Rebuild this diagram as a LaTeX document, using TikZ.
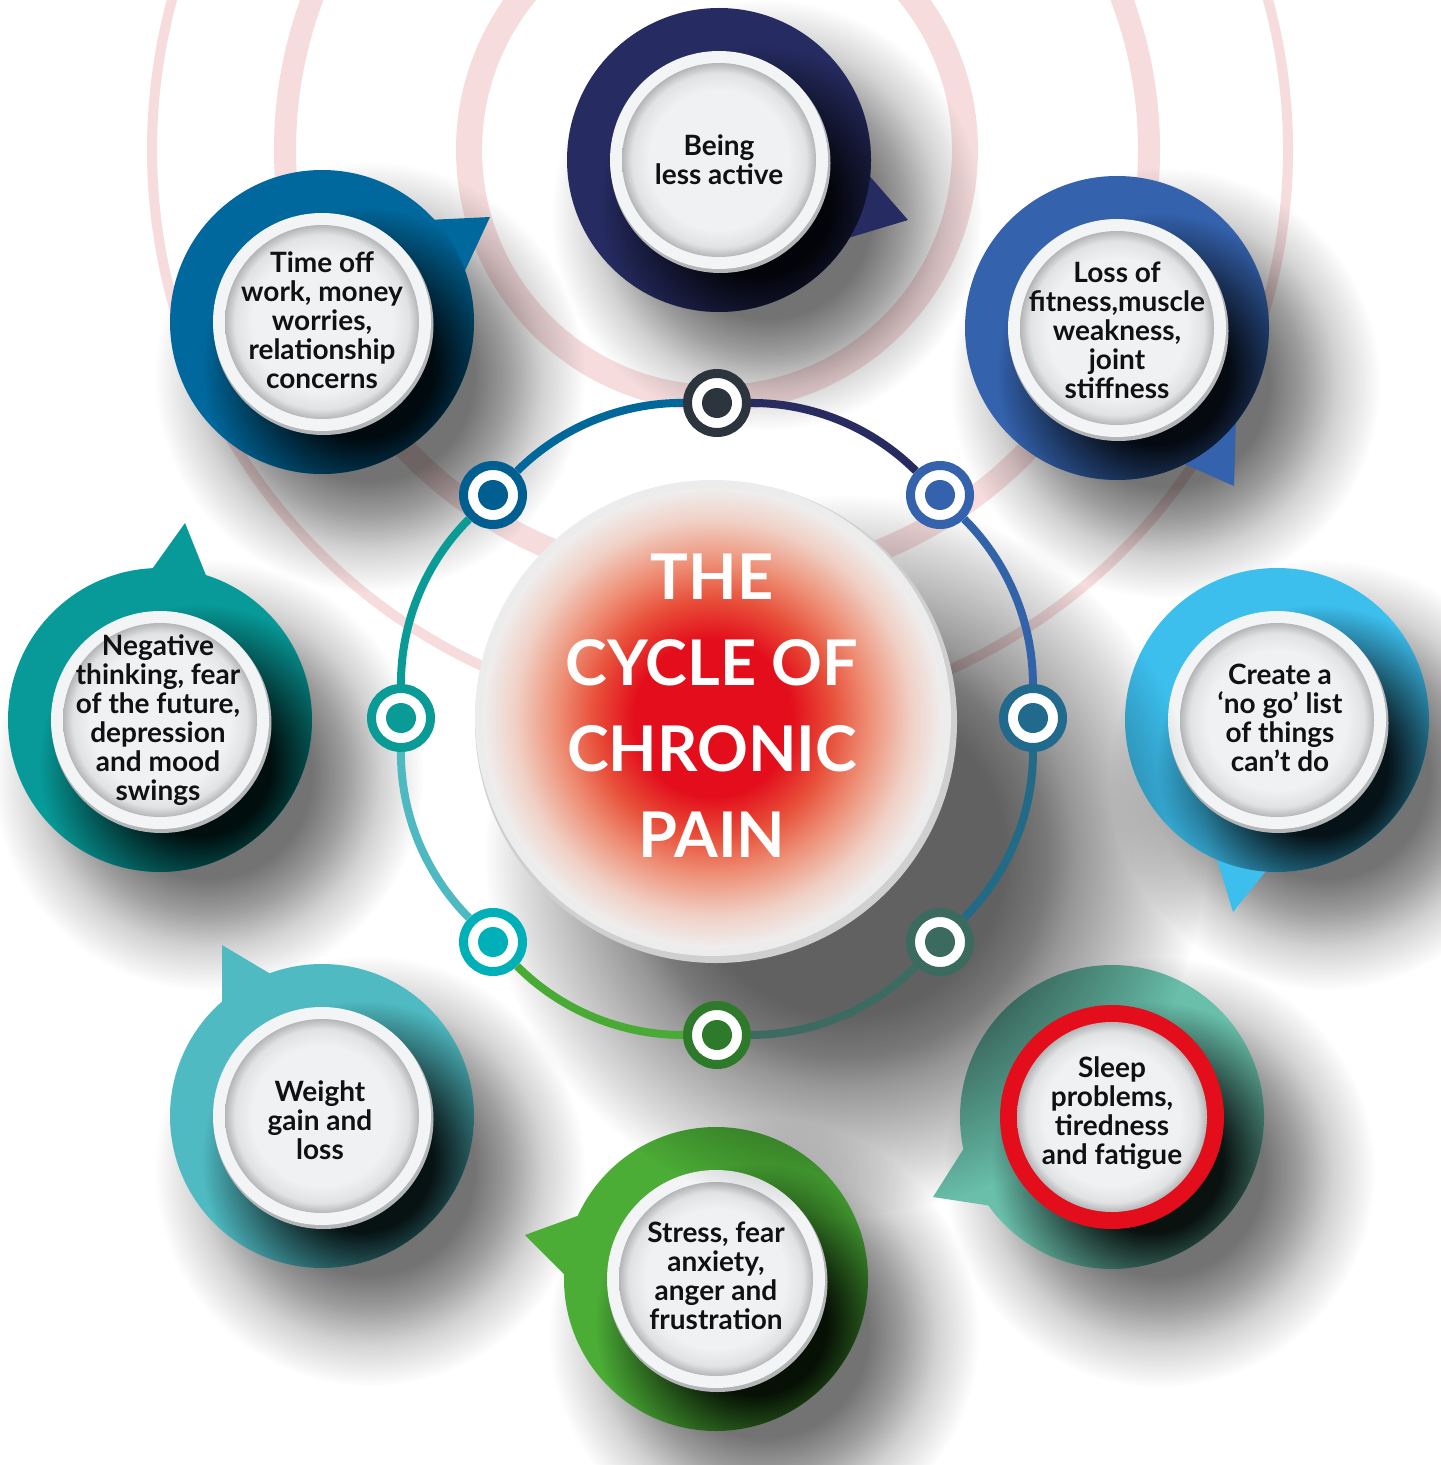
\documentclass[tikz,border=0pt]{standalone}
\usepackage{fontspec}
\setmainfont{Lato}
\usetikzlibrary{fadings}

\definecolor{navyc}{HTML}{262C62}
\definecolor{timec}{HTML}{00689C}
\definecolor{lossc}{HTML}{3462AD}
\definecolor{negc}{HTML}{079A98}
\definecolor{createc}{HTML}{3DBFEE}
\definecolor{sleepc}{HTML}{69BFAA}
\definecolor{stressc}{HTML}{4BAC36}
\definecolor{weightc}{HTML}{4FBAC2}
\definecolor{painred}{HTML}{E30D1B}
\definecolor{painmid}{HTML}{E8503A}
\definecolor{painsal}{HTML}{EE9077}
\definecolor{painpale}{HTML}{F0D0C5}
\definecolor{discw}{HTML}{EFEEEE}
\definecolor{discrim}{HTML}{CFCFCF}
\definecolor{discedge}{HTML}{ECECEC}
\definecolor{pinkc}{HTML}{F6DCDD}
\definecolor{faceA}{HTML}{EFF1F3}
\definecolor{faceB}{HTML}{E1E2E4}
\definecolor{faceC}{HTML}{B5B6B8}
\definecolor{ringwhite}{HTML}{F3F4F5}
\definecolor{ringshade}{HTML}{B4B5B7}
\definecolor{txtc}{HTML}{111111}
% ring colours
\definecolor{rTop}{HTML}{2C343E}
\definecolor{rUR}{HTML}{3562AD}
\definecolor{rR}{HTML}{21698D}
\definecolor{rLR}{HTML}{3B6A5E}
\definecolor{rB}{HTML}{2E7A2B}
\definecolor{rLL}{HTML}{00B0B8}
\definecolor{rL}{HTML}{0A9B96}
\definecolor{rUL}{HTML}{005E90}
\definecolor{aULT}{HTML}{00679B}
\definecolor{aTUR}{HTML}{272B5F}
\definecolor{aURR}{HTML}{3262A8}
\definecolor{aRLR}{HTML}{236A86}
\definecolor{aLRB}{HTML}{3E6B61}
\definecolor{aBLL}{HTML}{4AAA36}
\definecolor{aLLL}{HTML}{4FB9C2}
\definecolor{aLUL}{HTML}{0A9B96}

\pgfdeclareradialshading{softsh}{\pgfpointorigin}{color(0bp)=(white); color(11bp)=(white); color(18bp)=(gray); color(25bp)=(black); color(50bp)=(black)}
\pgfdeclarefading{softfade}{\pgfuseshading{softsh}}
\pgfdeclareradialshading{dropsh}{\pgfpointorigin}{color(0bp)=(white); color(12bp)=(white); color(16bp)=(white!70!black); color(20bp)=(white!32!black); color(25bp)=(black); color(50bp)=(black)}
\pgfdeclarefading{dropfade}{\pgfuseshading{dropsh}}
\pgfdeclareradialshading{longsh}{\pgfpointorigin}{color(0bp)=(white); color(11bp)=(white); color(14bp)=(white!85!black); color(16bp)=(white!66!black); color(19bp)=(white!45!black); color(22bp)=(white!24!black); color(25bp)=(black); color(50bp)=(black)}
\pgfdeclarefading{longfade}{\pgfuseshading{longsh}}
\pgfdeclareradialshading{facesh}{\pgfpointorigin}{color(0bp)=(faceA); color(18bp)=(faceA); color(22.5bp)=(faceB); color(25bp)=(faceC); color(50bp)=(faceC)}
\pgfdeclareradialshading{painsh}{\pgfpointorigin}{color(0bp)=(painred); color(8.5bp)=(painred); color(13bp)=(painmid); color(17bp)=(painsal); color(21.5bp)=(painpale); color(25bp)=(discw); color(50bp)=(discw)}

\newcommand\bubl[5]{% name, x, y, colour, tail path
  \node[bubblec, fill=#4] (#1) at (#2,#3) {};
  \fill[#4] #5;
  \begin{scope}
    \clip (#2,#3) circle (152);
    \fill[black, opacity=0.9, path fading=softfade] (#2+40,#3+45) circle (160);
  \end{scope}
}
\newcommand\wdisc[2]{%
  \fill[ringshade] (#1+1.5,#2+3) circle (110);
  \fill[ringwhite] (#1,#2) circle (109);
  \shade[shading=facesh] (#1,#2) circle (97);
}

\begin{document}
\begin{tikzpicture}[x=0.5pt,y=-0.5pt,
  bubblec/.style={circle, minimum size=152pt, inner sep=0pt, draw=none},
  ringnode/.style={circle, draw=#1, line width=4.5pt, fill=white, minimum size=29.5pt, inner sep=0pt,
     path picture={\fill[#1] (path picture bounding box.center) circle[radius=7.5pt];}},
  arcline/.style={line width=4pt, draw=#1},
  txt/.style={align=center, inner sep=0pt, text=txtc, font=\fontsize{14pt}{14.5pt}\selectfont\bfseries},
  title/.style={align=center, inner sep=0pt, text=white, font=\fontsize{31.5pt}{43pt}\selectfont\bfseries}]
\useasboundingbox (0,0) rectangle (1440,1465);
\fill[white] (0,0) rectangle (1440,1465);

% background pink rings
\begin{scope}
  \clip (0,0) rectangle (1440,1465);
  \draw[pinkc, line width=13pt] (717,150) circle (248);
  \draw[pinkc, line width=11pt] (717,150) circle (432);
  \draw[pinkc, line width=5pt] (720,150) circle (568);
\end{scope}

% bubble drop shadows
\foreach \x/\y in {719/160, 322/322, 1117/328, 160/720, 1277/720, 1112/1117, 716/1279, 322/1116}
  \fill[black, opacity=0.55, path fading=dropfade] (\x+48,\y+55) circle (215);

% speech bubbles
\bubl{b1}{719}{160}{navyc}{(866,172) -- (908,220) -- (848,238) -- cycle}
\wdisc{719}{160}
\node[txt] (t1) at (719,160) {Being\\less active};

\bubl{b2}{322}{322}{timec}{(428,220) -- (490,217) -- (463,275) -- cycle}
\wdisc{322}{322}
\node[txt] (t2) at (322,320) {Time off\\work, money\\worries,\\relationship\\concerns};

\bubl{b3}{1117}{328}{lossc}{(1236,418) -- (1234,486) -- (1180,462) -- cycle}
\wdisc{1117}{328}
\node[txt] (t3) at (1117,330) {Loss of\\fitness,muscle\\weakness,\\joint\\stiffness};

\bubl{b4}{160}{720}{negc}{(150,572) -- (185,523) -- (207,578) -- cycle}
\wdisc{160}{720}
\node[txt] (t4) at (158,720) {Negative\\thinking, fear\\of the future,\\depression\\and mood\\swings};

\bubl{b5}{1277}{720}{createc}{(1216,856) -- (1233,912) -- (1270,866) -- cycle}
\wdisc{1277}{720}
\node[txt] (t5) at (1280,718) {Create a\\‘no go’ list\\of things\\can’t do};

\bubl{b6}{1112}{1117}{sleepc}{(966,1145) -- (933,1197) -- (992,1206) -- cycle}

\bubl{b7}{716}{1279}{stressc}{(580,1215) -- (525,1235) -- (566,1276) -- cycle}
\wdisc{716}{1279}
\node[txt] (t7) at (716,1276) {Stress, fear\\anxiety,\\anger and\\frustration};

\bubl{b8}{322}{1116}{weightc}{(222,1008) -- (222,945) -- (274,976) -- cycle}
\wdisc{322}{1116}
\node[txt] (t8) at (320,1120) {Weight\\gain and\\loss};

% shadow of the central disc
\fill[black, opacity=0.62, path fading=longfade] (845,855) circle (360);

% red-rimmed disc of the sleep bubble
\fill[painred] (1112,1117) circle (112);
\shade[shading=facesh] (1112,1117) circle (95);
\node[txt] (t6) at (1112,1113) {Sleep\\problems,\\tiredness\\and fatigue};

% cycle ring
\node[ringnode=rTop] (nT)  at (717,403) {};
\node[ringnode=rUR]  (nUR) at (940,495) {};
\node[ringnode=rR]   (nR)  at (1033,718) {};
\node[ringnode=rLR]  (nLR) at (940,942) {};
\node[ringnode=rB]   (nB)  at (717,1035) {};
\node[ringnode=rLL]  (nLL) at (493,942) {};
\node[ringnode=rL]   (nL)  at (401,718) {};
\node[ringnode=rUL]  (nUL) at (493,495) {};
\draw[arcline=aULT] (nUL) to[bend left=22.5, looseness=0.885] (nT);
\draw[arcline=aTUR] (nT)  to[bend left=22.5, looseness=0.885] (nUR);
\draw[arcline=aURR] (nUR) to[bend left=22.5, looseness=0.885] (nR);
\draw[arcline=aRLR] (nR)  to[bend left=22.5, looseness=0.885] (nLR);
\draw[arcline=aLRB] (nLR) to[bend left=22.5, looseness=0.885] (nB);
\draw[arcline=aBLL] (nB)  to[bend left=22.5, looseness=0.885] (nLL);
\draw[arcline=aLLL] (nLL) to[bend left=22.5, looseness=0.885] (nL);
\draw[arcline=aLUL] (nL)  to[bend left=22.5, looseness=0.885] (nUL);

% central disc
\fill[discrim] (716,722) circle (241);
\fill[discedge] (713,718) circle (238);
\shade[shading=painsh] (713,718) circle (230);
\node[title] (title) at (712,706) {THE\\CYCLE OF\\CHRONIC\\PAIN};
\end{tikzpicture}
\end{document}
